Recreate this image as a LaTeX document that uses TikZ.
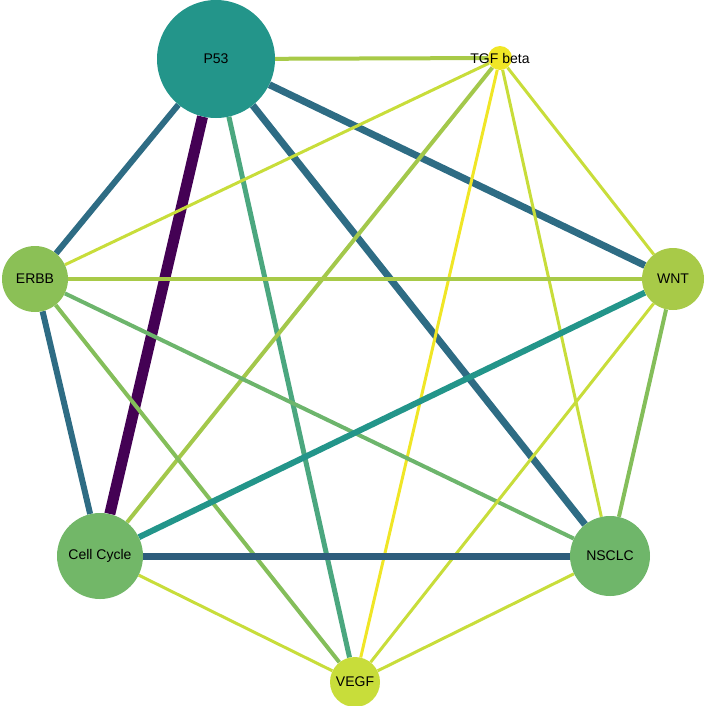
\documentclass[tikz,border=0pt]{standalone}
\usepackage{fontspec}
\setmainfont{Liberation Sans}
\usetikzlibrary{backgrounds}
\definecolor{vpurple}{HTML}{440154}
\definecolor{vblue}{HTML}{2E6C84}
\definecolor{vnavy}{HTML}{2E5D7C}
\definecolor{vteal}{HTML}{23958A}
\definecolor{vmint}{HTML}{4BA77F}
\definecolor{vgreen}{HTML}{6DB56C}
\definecolor{vlime}{HTML}{84BE5A}
\definecolor{vpale}{HTML}{A8CA48}
\definecolor{vyel}{HTML}{C8DD3A}
\definecolor{vsun}{HTML}{F0E626}
\tikzset{
    gene/.style={circle, inner sep=0pt, font=\fontsize{14}{14}\selectfont},
    link/.style={line width=#1}
}
\begin{document}
\begin{tikzpicture}[x=1pt, y=-1pt]
                        \useasboundingbox (0,0) rectangle (709,705);
                        \node[gene, fill=vteal, minimum size=118pt] (p53) at (216, 59) {P53};
                        \node[gene, fill=vsun, minimum size=24pt, label={[font=\fontsize{14}{14}\selectfont]center:TGF beta}] (tgf) at (500, 58) {};
                        \node[gene, fill=vpale, minimum size=62pt] (wnt) at (673, 279) {WNT};
                        \node[gene, fill=vgreen!90!vlime, minimum size=80pt] (nsclc) at (610, 556) {NSCLC};
                        \node[gene, fill=vyel, minimum size=50pt] (vegf) at (355, 682) {VEGF};
                        \node[gene, fill=vgreen!80!vlime, minimum size=86pt] (cc) at (100, 556) {Cell Cycle};
                        \node[gene, fill=vlime!80!vpale, minimum size=66pt] (erbb) at (35, 279) {ERBB};

                        \begin{scope}[on background layer]
                        \draw
                        (p53) edge[link=4pt, vpale] (tgf)
                        (p53) edge[link=7pt, vblue] (wnt)
                        (p53) edge[link=7pt, vblue] (nsclc)
                        (p53) edge[link=5pt, vmint] (vegf)
                        (p53) edge[link=11pt, vpurple] (cc)
                        (p53) edge[link=6pt, vblue] (erbb)
                        (tgf) edge[link=3pt, vyel] (erbb)
                        (tgf) edge[link=4pt, vpale!85!vlime] (cc)
                        (tgf) edge[link=3pt, vyel] (wnt)
                        (tgf) edge[link=3pt, vyel] (nsclc)
                        (tgf) edge[link=3pt, vsun] (vegf)
                        (erbb) edge[link=4pt, vpale] (wnt)
                        (erbb) edge[link=4pt, vgreen] (nsclc)
                        (erbb) edge[link=4pt, vlime] (vegf)
                        (erbb) edge[link=6pt, vblue] (cc)
                        (wnt) edge[link=6pt, vteal] (cc)
                        (wnt) edge[link=4pt, vlime] (nsclc)
                        (wnt) edge[link=3pt, vyel] (vegf)
                        (nsclc) edge[link=7pt, vnavy] (cc)
                        (nsclc) edge[link=3pt, vyel] (vegf)
                        (cc) edge[link=3pt, vyel] (vegf);
                        \end{scope}
                    \end{tikzpicture}
\end{document}
